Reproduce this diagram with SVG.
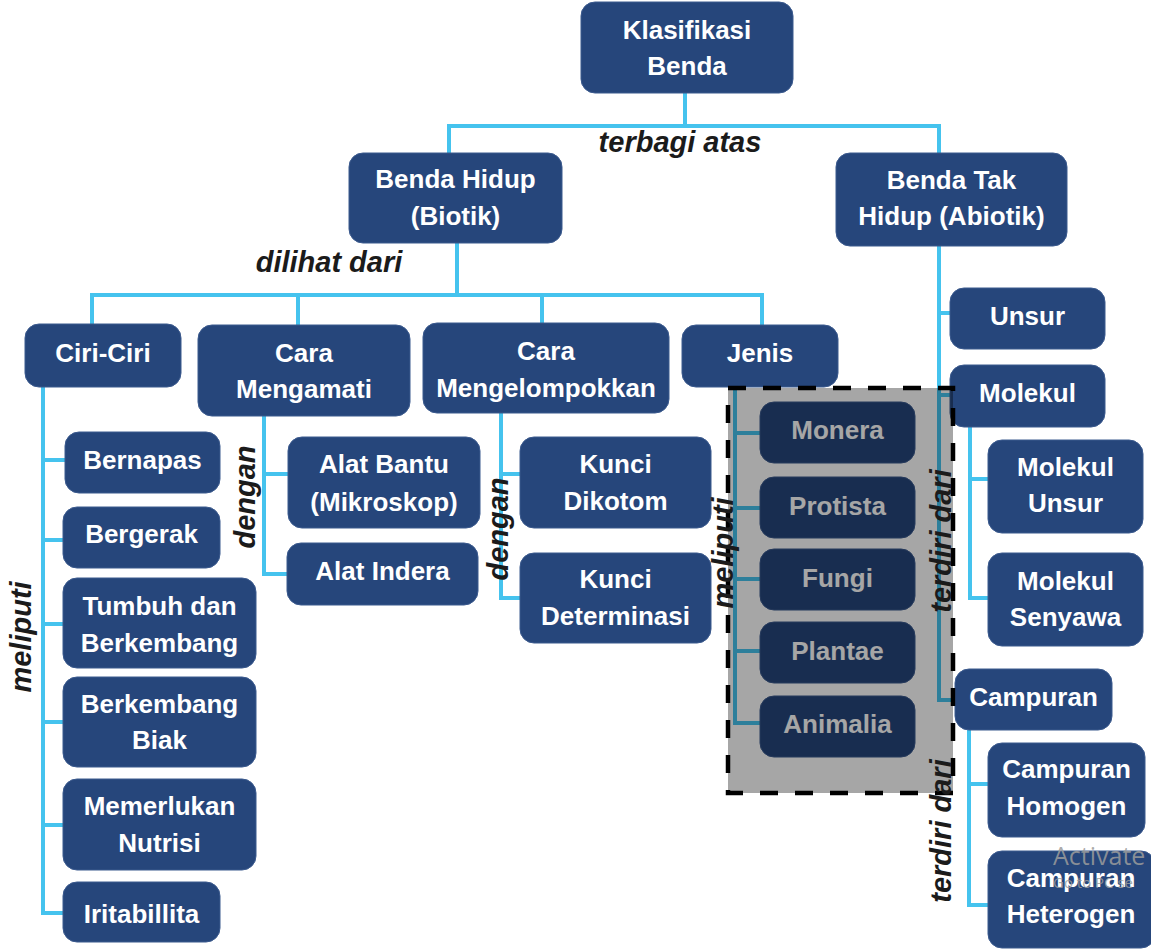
<svg xmlns="http://www.w3.org/2000/svg" width="1151" height="949" viewBox="0 0 1151 949">
<style>
.n rect{fill:#26467b;stroke:#3b5a8e;stroke-width:1}
.n text{font-family:"Liberation Sans",Arial,sans-serif;font-weight:bold;font-size:26px;fill:#ffffff;text-anchor:middle}
.lbl{font-family:"Liberation Sans",Arial,sans-serif;font-weight:bold;font-style:italic;font-size:29px;fill:#1b1b1b;text-anchor:middle}
.c path{stroke:#45c3ee;stroke-width:4;fill:none;stroke-linejoin:miter}
.wm{font-family:"Open Sans","Noto Sans",sans-serif;fill:#9c9c9c;fill-opacity:0.85}
</style>
<rect x="0" y="0" width="1151" height="949" fill="#ffffff"/>
<g id="connectors" class="c">
<path d="M685,93 V126"/>
<path d="M449,153 V126 H939 V153"/>
<path d="M457,243 V295"/>
<path d="M92,325 V295 H762 V325"/>
<path d="M298,295 V325"/>
<path d="M542,295 V323"/>
<path d="M43,387 V913 H63"/>
<path d="M43,460 H65"/>
<path d="M43,540 H63"/>
<path d="M43,624 H63"/>
<path d="M43,722 H63"/>
<path d="M43,825 H63"/>
<path d="M264,416 V574 H287"/>
<path d="M264,474 H288"/>
<path d="M501,413 V598 H520"/>
<path d="M501,474 H520"/>
<path d="M735,387 V723 H760"/>
<path d="M735,433 H760"/>
<path d="M735,508 H760"/>
<path d="M735,579 H760"/>
<path d="M735,651 H760"/>
<path d="M939,246 V700 H955"/>
<path d="M939,313 H950"/>
<path d="M939,395 H950"/>
<path d="M970,427 V598 H988"/>
<path d="M970,479 H988"/>
<path d="M969,730 V905 H988"/>
<path d="M969,784 H988"/>
</g>
<g id="klasifikasi" class="n"><rect x="581" y="2" width="212" height="91" rx="14"/><text x="687" y="39">Klasifikasi</text><text x="687" y="75">Benda</text></g>
<g id="benda-hidup" class="n"><rect x="349" y="153" width="213" height="90" rx="14"/><text x="455.5" y="188">Benda Hidup</text><text x="455.5" y="225">(Biotik)</text></g>
<g id="benda-tak-hidup" class="n"><rect x="836" y="153" width="231" height="93" rx="14"/><text x="951.5" y="189">Benda Tak</text><text x="951.5" y="225">Hidup (Abiotik)</text></g>
<g id="ciri-ciri" class="n"><rect x="25" y="324" width="156" height="63" rx="14"/><text x="103" y="362">Ciri-Ciri</text></g>
<g id="cara-mengamati" class="n"><rect x="198" y="325" width="212" height="91" rx="14"/><text x="304" y="362">Cara</text><text x="304" y="398">Mengamati</text></g>
<g id="cara-mengelompokkan" class="n"><rect x="423" y="323" width="246" height="90" rx="14"/><text x="546" y="360">Cara</text><text x="546" y="397">Mengelompokkan</text></g>
<g id="jenis" class="n"><rect x="682" y="325" width="156" height="62" rx="14"/><text x="760" y="362">Jenis</text></g>
<g id="bernapas" class="n"><rect x="65" y="432" width="155" height="61" rx="14"/><text x="142.5" y="469">Bernapas</text></g>
<g id="bergerak" class="n"><rect x="63" y="507" width="157" height="61" rx="14"/><text x="141.5" y="543">Bergerak</text></g>
<g id="tumbuh" class="n"><rect x="63" y="578" width="193" height="90" rx="14"/><text x="159.5" y="615">Tumbuh dan</text><text x="159.5" y="652">Berkembang</text></g>
<g id="berkembang-biak" class="n"><rect x="63" y="677" width="193" height="90" rx="14"/><text x="159.5" y="713">Berkembang</text><text x="159.5" y="749">Biak</text></g>
<g id="nutrisi" class="n"><rect x="63" y="779" width="193" height="91" rx="14"/><text x="159.5" y="815">Memerlukan</text><text x="159.5" y="852">Nutrisi</text></g>
<g id="iritabillita" class="n"><rect x="63" y="882" width="157" height="60" rx="14"/><text x="141.5" y="923">Iritabillita</text></g>
<g id="alat-bantu" class="n"><rect x="288" y="437" width="192" height="91" rx="14"/><text x="384" y="473">Alat Bantu</text><text x="384" y="511">(Mikroskop)</text></g>
<g id="alat-indera" class="n"><rect x="287" y="543" width="191" height="62" rx="14"/><text x="382.5" y="580">Alat Indera</text></g>
<g id="kunci-dikotom" class="n"><rect x="520" y="437" width="191" height="91" rx="14"/><text x="615.5" y="473">Kunci</text><text x="615.5" y="510">Dikotom</text></g>
<g id="kunci-determinasi" class="n"><rect x="520" y="553" width="191" height="90" rx="14"/><text x="615.5" y="588">Kunci</text><text x="615.5" y="625">Determinasi</text></g>
<g id="monera" class="n"><rect x="760" y="402" width="155" height="61" rx="14"/><text x="837.5" y="439">Monera</text></g>
<g id="protista" class="n"><rect x="760" y="477" width="155" height="61" rx="14"/><text x="837.5" y="515">Protista</text></g>
<g id="fungi" class="n"><rect x="760" y="549" width="155" height="61" rx="14"/><text x="837.5" y="587">Fungi</text></g>
<g id="plantae" class="n"><rect x="760" y="622" width="155" height="61" rx="14"/><text x="837.5" y="660">Plantae</text></g>
<g id="animalia" class="n"><rect x="760" y="696" width="155" height="61" rx="14"/><text x="837.5" y="733">Animalia</text></g>
<g id="unsur" class="n"><rect x="950" y="288" width="155" height="61" rx="14"/><text x="1027.5" y="325">Unsur</text></g>
<g id="molekul" class="n"><rect x="950" y="365" width="155" height="62" rx="14"/><text x="1027.5" y="402">Molekul</text></g>
<g id="molekul-unsur" class="n"><rect x="988" y="440" width="155" height="93" rx="14"/><text x="1065.5" y="476">Molekul</text><text x="1065.5" y="512">Unsur</text></g>
<g id="molekul-senyawa" class="n"><rect x="988" y="553" width="155" height="93" rx="14"/><text x="1065.5" y="590">Molekul</text><text x="1065.5" y="626">Senyawa</text></g>
<g id="campuran" class="n"><rect x="955" y="669" width="157" height="61" rx="14"/><text x="1033.5" y="706">Campuran</text></g>
<g id="campuran-homogen" class="n"><rect x="988" y="743" width="157" height="94" rx="14"/><text x="1066.5" y="778">Campuran</text><text x="1066.5" y="815">Homogen</text></g>
<g id="campuran-heterogen" class="n"><rect x="988" y="851" width="167" height="97" rx="14"/><text x="1071" y="887">Campuran</text><text x="1071" y="923">Heterogen</text></g>
<rect id="highlight" x="728" y="388" width="225" height="405" fill="#000000" fill-opacity="0.35" stroke="#000000" stroke-width="4.5" stroke-dasharray="18 17"/>
<g id="labels">
<text class="lbl" x="680" y="152">terbagi atas</text>
<text class="lbl" x="329" y="272">dilihat dari</text>
<text class="lbl" transform="translate(31,637) rotate(-90)">meliputi</text>
<text class="lbl" transform="translate(255,497) rotate(-90)">dengan</text>
<text class="lbl" transform="translate(508,529) rotate(-90)">dengan</text>
<text class="lbl" transform="translate(733,553) rotate(-90)">meliputi</text>
<text class="lbl" transform="translate(951,541) rotate(-90)">terdiri dari</text>
<text class="lbl" transform="translate(951,831) rotate(-90)">terdiri dari</text>
</g>
<text class="wm" x="1053" y="865" font-size="25">Activate</text>
<text class="wm" x="1053" y="888" font-size="15">Go to PC se</text>
</svg>
